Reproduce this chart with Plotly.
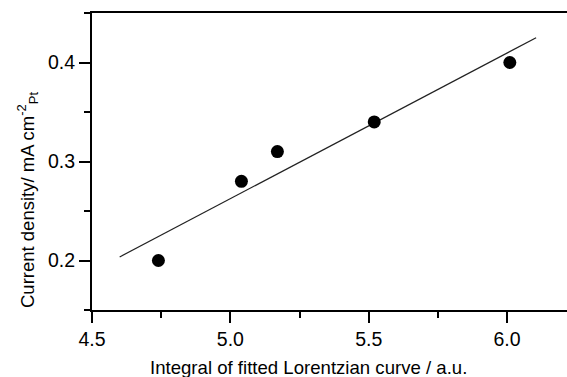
import numpy as np
import plotly.graph_objects as go

# Measured points
integral = [4.74, 5.04, 5.17, 5.52, 6.01]
current_density = [0.20, 0.28, 0.31, 0.34, 0.40]

# Span of the linear fit along the x axis
fit_span = [4.60, 6.105]

x_ticks = [4.5, 5.0, 5.5, 6.0]
x_tick_text = ["4.5", "5.0", "5.5", "6.0"]
y_ticks = [0.2, 0.3, 0.4]
y_tick_text = ["0.2", "0.3", "0.4"]

slope, intercept = np.polyfit(integral, current_density, 1)
fit_y = [slope * v + intercept for v in fit_span]

W, H = 567, 377
L, T, B, R = 92, 13, 67, 0
FONT = "Liberation Sans, Arial, sans-serif"

fig = go.Figure()
fig.add_trace(go.Scatter(
    x=fit_span, y=fit_y, mode="lines",
    line=dict(color="#222222", width=1.2), showlegend=False,
))
fig.add_trace(go.Scatter(
    x=integral, y=current_density, mode="markers",
    marker=dict(color="black", size=13, line=dict(width=0)), showlegend=False,
))

axis_common = dict(
    showgrid=False, zeroline=False, showline=True, linecolor="black",
    linewidth=2, ticks="outside", tickcolor="black", tickwidth=2,
    ticklen=11, tickfont=dict(family=FONT, size=19.5, color="black"),
)

fig.update_xaxes(
    range=[4.5, 4.5 + (W - L - R) / 276.7], tickvals=x_ticks, ticktext=x_tick_text,
    mirror=True,
    minor=dict(dtick=0.25, tick0=4.5, ticks="outside", ticklen=6, tickwidth=2,
               tickcolor="black"),
    **axis_common,
)
fig.update_yaxes(
    range=[0.15, 0.45], tickvals=y_ticks, ticktext=y_tick_text,
    mirror=False,
    minor=dict(dtick=0.05, tick0=0.15, ticks="outside", ticklen=6, tickwidth=2,
               tickcolor="black"),
    **axis_common,
)

plot_h = H - T - B
plot_w = W - L - R
fig.add_annotation(
    text="Current density/ mA cm<sup>-2</sup><sub>Pt</sub>",
    xref="paper", yref="paper", x=0, y=(H - B - 200) / plot_h,
    xshift=-(L - 27), xanchor="center", yanchor="middle",
    textangle=-90, showarrow=False,
    font=dict(family=FONT, size=18.5, color="black"),
)
fig.add_annotation(
    text="Integral of fitted Lorentzian curve / a.u.",
    xref="paper", yref="paper", x=(308.7 - L) / plot_w, y=0,
    yshift=-(367 - (H - B)), xanchor="center", yanchor="middle",
    showarrow=False,
    font=dict(family=FONT, size=18.6, color="black"),
)

fig.update_layout(
    width=W, height=H, margin=dict(l=L, r=R, t=T, b=B),
    paper_bgcolor="white", plot_bgcolor="white",
)

fig.write_html("out.html")
